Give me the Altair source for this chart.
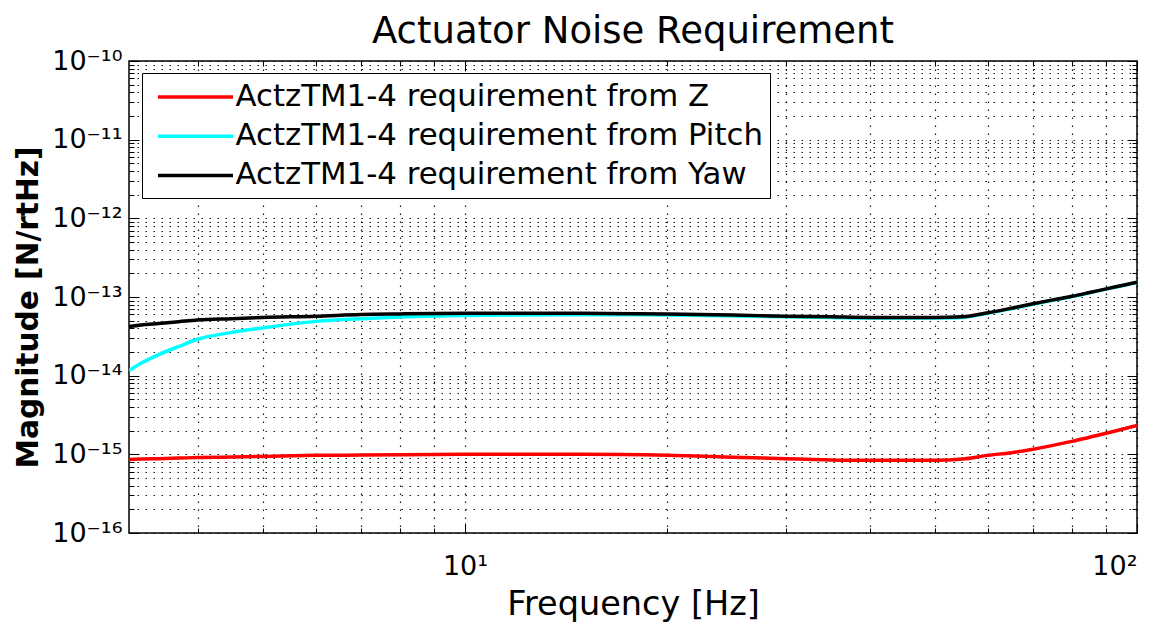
import altair as alt
import pandas as pd

# ---------------- data ----------------
freq = [3.1623, 3.3, 3.5, 3.75, 4, 4.5, 5, 6, 7, 8, 10, 12, 15, 20, 25, 30,
        35, 40, 45, 50, 55, 60, 65, 70, 75, 80, 85, 90, 95, 100]

z_req = [8.6e-16, 8.7e-16, 8.8e-16, 8.95e-16, 9.1e-16, 9.25e-16, 9.4e-16, 9.7e-16,
         9.8e-16, 9.9e-16, 1.0e-15, 1.0e-15, 1.0e-15, 9.7e-16, 9.2e-16, 8.8e-16,
         8.5e-16, 8.4e-16, 8.4e-16, 8.4e-16, 8.7e-16, 9.7e-16, 1.05e-15, 1.16e-15,
         1.3e-15, 1.46e-15, 1.65e-15, 1.85e-15, 2.08e-15, 2.33e-15]

pitch_req = [1.16e-14, 1.45e-14, 1.85e-14, 2.35e-14, 2.9e-14, 3.55e-14, 4.05e-14, 4.9e-14,
             5.3e-14, 5.55e-14, 5.8e-14, 5.9e-14, 5.95e-14, 5.9e-14, 5.75e-14, 5.6e-14,
             5.5e-14, 5.4e-14, 5.4e-14, 5.4e-14, 5.5e-14, 6.2e-14, 7.1e-14, 8.1e-14,
             9.1e-14, 1.01e-13, 1.13e-13, 1.26e-13, 1.39e-13, 1.53e-13]

yaw_req = [4.2e-14, 4.4e-14, 4.6e-14, 4.85e-14, 5.1e-14, 5.3e-14, 5.5e-14, 5.7e-14,
           6.0e-14, 6.1e-14, 6.2e-14, 6.2e-14, 6.2e-14, 6.1e-14, 5.9e-14, 5.7e-14,
           5.6e-14, 5.5e-14, 5.5e-14, 5.5e-14, 5.6e-14, 6.3e-14, 7.2e-14, 8.2e-14,
           9.2e-14, 1.02e-13, 1.14e-13, 1.27e-13, 1.4e-13, 1.54e-13]

series_names = ["ActzTM1-4 requirement from Z",
                "ActzTM1-4 requirement from Pitch",
                "ActzTM1-4 requirement from Yaw"]
series_colors = ["#ff0000", "#00ffff", "#000000"]

x_major = [10, 100]
x_major_labels = ["10¹", "10²"]
x_minor = [4, 5, 6, 7, 8, 9, 20, 30, 40, 50, 60, 70, 80, 90]

y_major = [1e-16, 1e-15, 1e-14, 1e-13, 1e-12, 1e-11, 1e-10]
y_major_labels = ["10⁻¹⁶", "10⁻¹⁵", "10⁻¹⁴", "10⁻¹³", "10⁻¹²", "10⁻¹¹", "10⁻¹⁰"]
y_minor_mult = [2, 3, 4, 5, 6, 7, 8, 9]

# ---------------- table ----------------
rows = []
for name, vals in zip(series_names, [z_req, pitch_req, yaw_req]):
    for f, v in zip(freq, vals):
        rows.append({"f": f, "v": v, "series": name})
df = pd.DataFrame(rows)

y_minor = [m * d for d in y_major[:-1] for m in y_minor_mult]
x_all = sorted(x_minor + x_major)
y_all = sorted(y_minor + y_major)

FONT = "DejaVu Sans"
W, H = 1008, 472

xscale = alt.Scale(type="log", domain=[3.1623, 100], nice=False)
yscale = alt.Scale(type="log", domain=[1e-16, 1e-10], nice=False)


def label_expr(vals, labels):
    e = "''"
    for v, l in zip(reversed(vals), reversed(labels)):
        e = f"datum.value == {v!r} ? '{l}' : ({e})"
    return e


base = alt.Chart(df)


def ghost(xaxis, yaxis):
    return base.mark_point(opacity=0, size=0).encode(
        x=alt.X("f:Q", scale=xscale, axis=xaxis),
        y=alt.Y("v:Q", scale=yscale, axis=yaxis),
    )


def tick_axis(orient, vals, size):
    return alt.Axis(orient=orient, values=vals, ticks=True, tickSize=size,
                    offset=-size, tickColor="black", tickWidth=1,
                    labels=False, domain=False, grid=False, title=None)


grid_kw = dict(grid=True, gridDash=[1.5, 6.5], gridColor="black", gridOpacity=0.9,
               gridWidth=1.2, ticks=False, labels=False, domain=False, title=None)

grid_layer = ghost(alt.Axis(orient="bottom", values=x_all, **grid_kw),
                   alt.Axis(orient="left", values=y_all, **grid_kw))

# custom horizontal-line legend glyph: long line, small nominal symbol size
legend_glyph = "M-2.5,0H2.5"

lines = base.mark_line(strokeWidth=3.5, clip=True, interpolate="monotone").encode(
    x=alt.X("f:Q", scale=xscale,
            axis=alt.Axis(orient="bottom", values=x_major,
                          labelExpr=label_expr(x_major, x_major_labels),
                          ticks=False, tickSize=0, grid=False, domain=False,
                          labelFont=FONT, labelFontSize=27, labelColor="black",
                          labelFontWeight="normal",
                          labelPadding=20, labelBaseline="top",
                          title="Frequency [Hz]", titleFont=FONT, titleFontSize=33.5,
                          titleFontWeight="normal", titleColor="black", titlePadding=9)),
    y=alt.Y("v:Q", scale=yscale,
            axis=alt.Axis(orient="left", values=y_major,
                          labelExpr=label_expr(y_major, y_major_labels),
                          ticks=False, tickSize=0, grid=False, domain=False,
                          labelFont=FONT, labelFontSize=27, labelColor="black",
                          labelFontWeight="normal", labelPadding=7,
                          title="Magnitude [N/rtHz]", titleFont=FONT, titleFontSize=29.6,
                          titleFontWeight="bold", titleColor="black", titlePadding=8,
                          titleY=246)),
    color=alt.Color("series:N",
                    scale=alt.Scale(domain=series_names, range=series_colors),
                    legend=alt.Legend(orient="none", legendX=13, legendY=12, title=None,
                                      symbolType=legend_glyph, symbolSize=900,
                                      symbolStrokeWidth=3.5, symbolOffset=29.5,
                                      labelFont=FONT, labelFontSize=30.8, labelColor="black",
                                      labelLimit=1000, labelOffset=23,
                                      padding=7, rowPadding=7.2,
                                      strokeColor="black", fillColor="white")),
)

minor_bl = ghost(tick_axis("bottom", x_minor, 5), tick_axis("left", y_minor, 5))
minor_tr = ghost(tick_axis("top", x_minor, 5), tick_axis("right", y_minor, 5))
major_bl = ghost(tick_axis("bottom", x_major, 10), tick_axis("left", y_major, 10))
major_tr = ghost(tick_axis("top", x_major, 10), tick_axis("right", y_major, 10))

chart = alt.layer(grid_layer, minor_bl, minor_tr, major_bl, major_tr, lines).resolve_axis(
    x="independent", y="independent"
).properties(
    width=W, height=H,
    title=alt.TitleParams("Actuator Noise Requirement", font=FONT, fontSize=37,
                          fontWeight="normal", color="black", offset=-4, anchor="middle"),
    autosize=alt.AutoSizeParams(type="none"),
    padding={"left": 121, "top": 53, "right": 20, "bottom": 90},
).configure_view(stroke="black", strokeWidth=1.5)

chart.save("out.html", embed_options={"renderer": "svg", "actions": False})
